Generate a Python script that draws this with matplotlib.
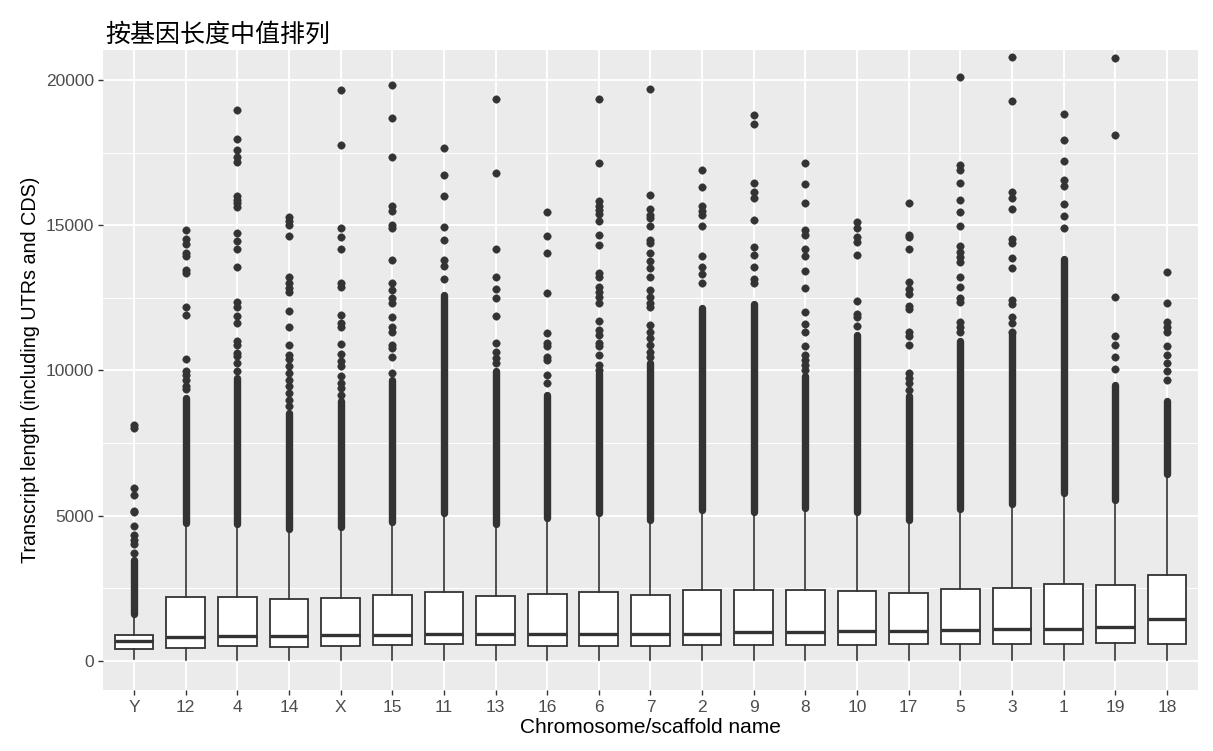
import matplotlib
matplotlib.use('Agg')  # headless
import matplotlib.pyplot as plt

plt.rcParams['font.family'] = ['Liberation Sans', 'DejaVu Sans']

# chromosomes, ordered by median transcript length
chroms = ["Y", "12", "4", "14", "X", "15", "11", "13", "16", "6", "7",
          "2", "9", "8", "10", "17", "5", "3", "1", "19", "18"]

q1 = [425, 459, 516, 482, 516, 539, 573, 539, 528, 505, 528,
      562, 562, 539, 562, 597, 597, 573, 573, 619, 597]
med = [677, 816, 860, 849, 906, 906, 929, 929, 929, 929, 929,
       929, 986, 986, 1033, 1033, 1067, 1090, 1113, 1159, 1446]
q3 = [895, 2192, 2214, 2134, 2157, 2272, 2386, 2237, 2306, 2363, 2272,
      2444, 2444, 2444, 2421, 2329, 2467, 2524, 2662, 2604, 2948]
whis_lo = [80, 40, 50, 40, 50, 50, 50, 50, 50, 50, 50,
           50, 50, 50, 50, 50, 50, 50, 50, 50, 50]
whis_hi = [1607, 4739, 4716, 4533, 4624, 4796, 5083, 4716, 4934, 5083, 4853,
           5197, 5140, 5277, 5117, 4853, 5243, 5392, 5771, 5541, 6425]

# where the solid run of overlapping outliers stops
dense_top = [3480, 9050, 9740, 8540, 8940, 9680, 12600, 9970, 9170, 9910, 10250,
             12140, 12300, 9800, 11230, 9110, 11000, 11280, 13820, 9510, 8940]

# separate outliers above the solid run
outliers = {
    "Y": [8130, 8020, 5940, 5710, 5170, 5130, 4650, 4340, 4170, 4020, 3710],
    "12": [14850, 14540, 14350, 14030, 13950, 13460, 13370, 12200, 11900, 10400,
           9970, 9850, 9680, 9450, 9360],
    "4": [18970, 17950, 17600, 17350, 17170, 16000, 15880, 15770, 15630, 14740,
          14450, 14180, 13570, 12340, 12200, 11860, 11650, 11000, 10880, 10600,
          10500, 10250, 9970],
    "14": [15290, 15140, 15000, 14620, 13230, 13000, 12830, 12690, 12050, 11490,
           10880, 10540, 10390, 10140, 9910, 9680, 9450, 9220, 9000, 8770],
    "X": [19660, 17770, 14910, 14580, 14180, 13000, 12880, 11900, 11630, 11490,
          10920, 10560, 10310, 10140, 9800, 9570, 9400, 9170],
    "15": [19810, 18680, 17350, 15660, 15490, 15000, 14890, 13800, 13020, 12770,
           12510, 12310, 11830, 11490, 11340, 10880, 10770, 10480, 9910],
    "11": [17660, 16730, 16010, 14940, 14490, 13800, 13610, 13150],
    "13": [19330, 16810, 14170, 13200, 12790, 12480, 11860, 10960, 10650, 10430,
           10250],
    "16": [15470, 14620, 14030, 12660, 11280, 10940, 10830, 10480, 10370, 9850,
           9570],
    "6": [19330, 17140, 15840, 15660, 15520, 15400, 15150, 14660, 14310, 13340,
          13230, 12880, 12710, 12540, 12310, 11710, 11400, 11230, 10940, 10830,
          10540, 10200, 10020],
    "7": [19690, 16030, 15570, 15340, 15260, 14970, 14490, 14370, 14030, 13780,
          13510, 13230, 12770, 12540, 12310, 12200, 11570, 11340, 11110, 10880,
          10650, 10480],
    "2": [16890, 16320, 15650, 15490, 15340, 14980, 13940, 13570, 13320, 13000],
    "9": [18780, 18470, 16450, 16150, 15950, 15170, 14260, 13990, 13570, 13140,
          13000],
    "8": [17140, 16420, 15780, 14850, 14660, 14180, 13940, 13430, 12830, 12000,
          11590, 11340, 10830, 10540, 10370, 10200, 10020],
    "10": [15120, 14890, 14600, 14410, 13990, 12400, 11950, 11830, 11530],
    "17": [15780, 14660, 14580, 14170, 13060, 12790, 12630, 12220, 12110, 11340,
           11170, 10860, 9910, 9740, 9570, 9340],
    "5": [20090, 17060, 16890, 16450, 15860, 15460, 14970, 14280, 14090, 13910,
          13740, 13230, 12880, 12480, 12370, 11680, 11510, 11340],
    "3": [20800, 19290, 16150, 15920, 15550, 14510, 14370, 13860, 13510, 12430,
          12290, 11830, 11650, 11340],
    "1": [18830, 17920, 17210, 16570, 16340, 15720, 15310, 14890],
    "19": [20760, 18090, 12520, 11170, 10880, 10480, 10050],
    "18": [13400, 12310, 11680, 11510, 11340, 10830, 10540, 10250, 9970, 9680],
}

ink = '#333333'
fig = plt.figure(figsize=(12.13, 7.51), dpi=100)
ax = fig.add_axes([0.0849, 0.0812, 0.9027, 0.8522])
ax.set_facecolor('#EBEBEB')
for s in ax.spines.values():
    s.set_visible(False)

pos = list(range(1, len(chroms) + 1))

# grid
for y in [2500, 7500, 12500, 17500]:
    ax.axhline(y, color='white', lw=0.7, zorder=0)
for y in [0, 5000, 10000, 15000, 20000]:
    ax.axhline(y, color='white', lw=1.4, zorder=0)
for x in pos:
    ax.axvline(x, color='white', lw=1.4, zorder=0)

stats = []
for i, c in enumerate(chroms):
    stats.append(dict(med=med[i], q1=q1[i], q3=q3[i], whislo=whis_lo[i],
                      whishi=whis_hi[i], fliers=outliers[c], label=c))

# solid run of overplotted outliers
for i in range(len(chroms)):
    ax.plot([pos[i], pos[i]], [whis_hi[i], dense_top[i]], color=ink, lw=5.3,
            solid_capstyle='round', zorder=2)

ax.bxp(stats, positions=pos, widths=0.75, patch_artist=True, showcaps=False,
       boxprops=dict(facecolor='white', edgecolor=ink, linewidth=1.3),
       medianprops=dict(color=ink, linewidth=2.4),
       whiskerprops=dict(color=ink, linewidth=1.2),
       flierprops=dict(marker='o', markersize=5.4, markerfacecolor=ink,
                       markeredgecolor=ink, markeredgewidth=0.3, linestyle='none'),
       zorder=3)

ax.set_xlim(0.4, 21.6)
ax.set_ylim(-1000, 21030)
ax.set_xticks(pos)
ax.set_xticklabels(chroms)
ax.set_yticks([0, 5000, 10000, 15000, 20000])
ax.set_yticklabels(['0', '5000', '10000', '15000', '20000'])
ax.tick_params(axis='both', colors=ink, labelcolor='#4D4D4D', labelsize=12.5,
               length=3.5, width=1.0)
ax.tick_params(axis='y', pad=3)

ax.set_xlabel('Chromosome/scaffold name', fontsize=15, color='black', labelpad=2)
ax.set_ylabel('Transcript length (including UTRs and CDS)', fontsize=14.2,
              color='black', labelpad=4)
ax.set_title('按基因长度中值排列', loc='left', x=0.002, pad=6,
             fontsize=18, family=['Noto Sans CJK SC', 'DejaVu Sans'], color='black')

fig.savefig('out.png', dpi=100)
plt.close(fig)
